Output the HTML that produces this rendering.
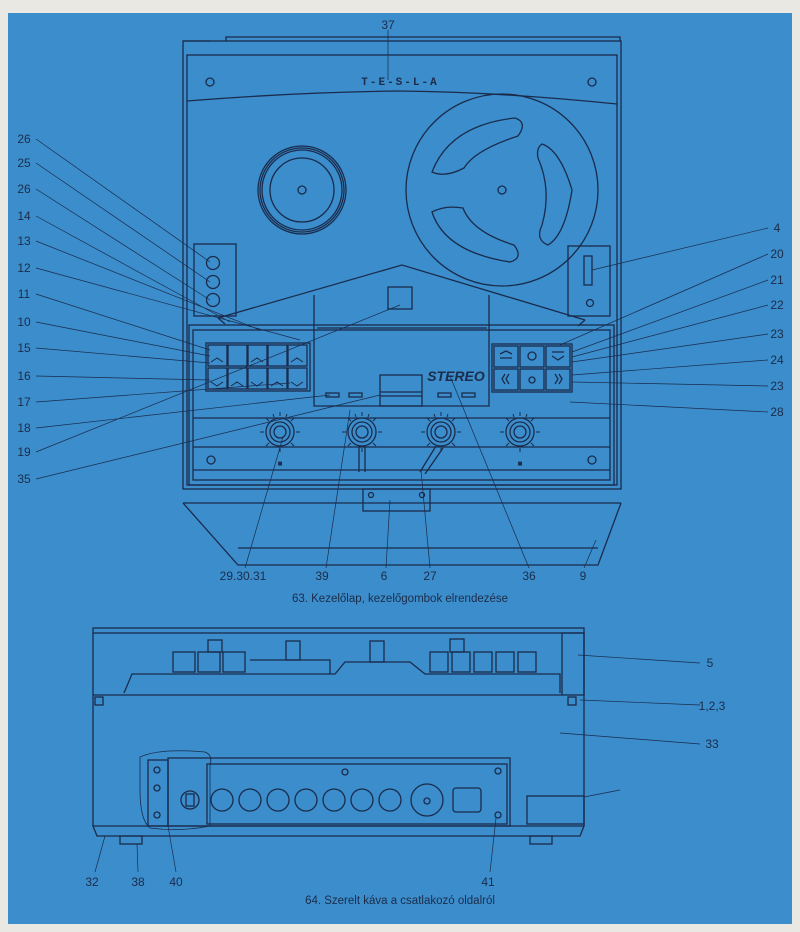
<!DOCTYPE html>
<html><head><meta charset="utf-8">
<style>
html,body{margin:0;padding:0;background:#e9e8e3;}
svg{display:block}
text{font-family:"Liberation Sans",sans-serif;fill:#1c2c4a;}
</style></head>
<body>
<svg width="800" height="932" viewBox="0 0 800 932" xmlns="http://www.w3.org/2000/svg">
<defs>
<g id="tk" stroke="#1a2b4c" stroke-width="1">
<path d="M0 -16 V-20 M11 -11 L14 -14 M16 0 H20 M11 11 L14 14 M0 16 V20 M-11 11 L-14 14 M-16 0 H-20 M-11 -11 L-14 -14 M6 -15 L7 -18 M-6 -15 L-7 -18"/>
</g>
</defs>
<rect x="8" y="13" width="784" height="911" fill="#3b8dcb"/>
<g fill="none" stroke="#1a2b4c" stroke-width="1.3">
<!-- ===== Fig 63 ===== -->
<path d="M226 41 V37 H620 V41"/>
<path d="M183 41 H210"/>
<rect x="183" y="41" width="438" height="448"/>
<rect x="187" y="55" width="430" height="430"/>
<path d="M187 101 Q300 92 400 91 Q500 92 617 104"/>
<circle cx="210" cy="82" r="4"/><circle cx="592" cy="82" r="4"/>
<!-- reels -->
<circle cx="302" cy="190" r="44"/><circle cx="302" cy="190" r="42"/><circle cx="302" cy="190" r="40"/><circle cx="302" cy="190" r="32"/>
<circle cx="302" cy="190" r="4"/>
<circle cx="502" cy="190" r="96"/>
<path d="M432 172 Q450 125 515 118 Q528 122 518 136 Q475 150 464 168 Q445 178 432 172Z"/>
<path d="M463 208 Q445 205 432 212 Q445 252 510 262 Q524 258 514 245 Q472 232 463 208Z"/>
<path d="M542 144 Q560 150 572 190 Q565 235 548 245 Q535 240 542 225 Q552 190 538 158 Q536 148 542 144Z"/>
<circle cx="502" cy="190" r="4"/>
<!-- side boxes -->
<rect x="194" y="244" width="42" height="72"/>
<circle cx="213" cy="263" r="6.5"/><circle cx="213" cy="282" r="6.5"/><circle cx="213" cy="300" r="6.5"/>
<rect x="568" y="246" width="42" height="70"/>
<rect x="584" y="256" width="8" height="29"/><circle cx="590" cy="303" r="3.5"/>
<!-- roof -->
<path d="M218 318 L402 265 L585 320"/>
<path d="M218 318 L225 324 M585 320 L578 326"/>
<path d="M314 295 V406 H489 V295"/>
<path d="M317 328 H487"/>
<rect x="388" y="287" width="24" height="22"/>
<!-- panel -->
<rect x="189" y="325" width="425" height="160"/>
<rect x="193" y="330" width="417" height="150"/>
<path d="M193 418 H610 M193 447 H610 M193 470 H610"/>
<!-- left keys -->
<rect x="206" y="343" width="104" height="48"/>
<g>
<rect x="208" y="345" width="19" height="21"/><rect x="228" y="345" width="19" height="21"/><rect x="248" y="345" width="19" height="21"/><rect x="268" y="345" width="19" height="21"/><rect x="288" y="345" width="19" height="21"/>
<rect x="208" y="368" width="19" height="21"/><rect x="228" y="368" width="19" height="21"/><rect x="248" y="368" width="19" height="21"/><rect x="268" y="368" width="19" height="21"/><rect x="288" y="368" width="19" height="21"/>
</g>
<g stroke-width="1">
<path d="M211 362 L217 358 L223 362 M251 362 L257 358 L263 362 M291 362 L297 358 L303 362"/>
<path d="M211 382 L217 386 L223 382 M231 386 L237 382 L243 386 M251 382 L257 386 L263 382 M271 386 L277 382 L283 386 M291 382 L297 386 L303 382"/>
</g>
<!-- right keys -->
<rect x="492" y="344" width="80" height="48"/>
<rect x="494" y="346" width="24" height="21"/><rect x="520" y="346" width="24" height="21"/><rect x="546" y="346" width="24" height="21"/>
<rect x="494" y="369" width="24" height="21"/><rect x="520" y="369" width="24" height="21"/><rect x="546" y="369" width="24" height="21"/>
<circle cx="532" cy="356" r="4"/><circle cx="532" cy="380" r="3"/>
<path d="M500 354 L506 351 L512 354 M500 358 H512 M552 352 H564 M552 356 L558 360 L564 356"/>
<path d="M505 374 L502 379 L505 384 M509 374 L506 379 L509 384 M555 374 L558 379 L555 384 M559 374 L562 379 L559 384"/>
<!-- cabinet inner -->
<rect x="380" y="375" width="42" height="31"/><path d="M380 392 H422 M380 396 H422"/>
<rect x="326" y="393" width="13" height="4"/><rect x="349" y="393" width="13" height="4"/><rect x="438" y="393" width="13" height="4"/><rect x="462" y="393" width="13" height="4"/>
<!-- knobs -->
<g>
<circle cx="280" cy="432" r="14"/><circle cx="280" cy="432" r="10"/><circle cx="280" cy="432" r="6"/>
<circle cx="362" cy="432" r="14"/><circle cx="362" cy="432" r="10"/><circle cx="362" cy="432" r="6"/>
<circle cx="441" cy="432" r="14"/><circle cx="441" cy="432" r="10"/><circle cx="441" cy="432" r="6"/>
<circle cx="520" cy="432" r="14"/><circle cx="520" cy="432" r="10"/><circle cx="520" cy="432" r="6"/>
</g>
<use href="#tk" x="280" y="432"/><use href="#tk" x="362" y="432"/><use href="#tk" x="441" y="432"/><use href="#tk" x="520" y="432"/>
<path d="M359 445 V472 M365 445 V472"/>
<path d="M436 446 L420 472 M443 448 L425 474"/>
<circle cx="211" cy="460" r="4"/><circle cx="592" cy="460" r="4"/>
<!-- base -->
<path d="M183 503 H621"/>
<path d="M183 503 L238 565 H598 L621 503"/>
<path d="M238 548 H598"/>
<rect x="363" y="489" width="67" height="22"/>
<circle cx="371" cy="495" r="2.5"/><circle cx="422" cy="495" r="2.5"/>
<!-- leader lines fig 63 -->
<g stroke-width="0.7">
<path d="M388 30 V80"/>
<path d="M36 139 L210 262 M36 163 L210 282 M36 189 L210 300 M36 216 L230 322 M36 241 L260 330 M36 268 L300 340 M36 294 L210 350 M36 322 L210 356 M36 348 L210 363 M36 376 L210 380 M36 402 L290 383 M36 428 L330 395 M36 452 L400 305 M36 479 L380 395"/>
<path d="M768 228 L592 270 M768 254 L560 345 M768 280 L572 352 M768 305 L572 357 M768 334 L572 362 M768 360 L572 375 M768 386 L572 382 M768 412 L570 402"/>
<path d="M245 568 L283 437 M326 568 L350 410 M386 568 L390 500 M430 568 L421 470 M529 568 L450 376 M584 568 L596 540"/>
</g>
<!-- ===== Fig 64 ===== -->
<rect x="93" y="628" width="491" height="5"/>
<path d="M93 633 V826 M584 633 V826"/>
<path d="M93 695 H562"/>
<rect x="562" y="633" width="22" height="62"/>
<path d="M124 693 L132 674 H335 L345 662 H410 L425 674 H560 V693"/>
<path d="M250 660 H330 V674"/>
<g><rect x="173" y="652" width="22" height="20"/><rect x="198" y="652" width="22" height="20"/><rect x="223" y="652" width="22" height="20"/>
<rect x="430" y="652" width="18" height="20"/><rect x="452" y="652" width="18" height="20"/><rect x="474" y="652" width="18" height="20"/><rect x="496" y="652" width="18" height="20"/><rect x="518" y="652" width="18" height="20"/>
<rect x="208" y="640" width="14" height="12"/><rect x="286" y="641" width="14" height="19"/><rect x="370" y="641" width="14" height="21"/><rect x="450" y="639" width="14" height="13"/></g>
<rect x="95" y="697" width="8" height="8"/><rect x="568" y="697" width="8" height="8"/>
<!-- connector panel -->
<path d="M140 757 Q160 748 205 752 Q213 755 210 765 V826 Q180 832 150 828 Q140 820 140 790Z" stroke-width="0.8"/>
<rect x="148" y="760" width="20" height="66"/>
<circle cx="157" cy="770" r="3"/><circle cx="157" cy="788" r="3"/><circle cx="157" cy="815" r="3"/>
<rect x="168" y="758" width="342" height="68"/>
<rect x="207" y="764" width="300" height="60"/>
<circle cx="190" cy="800" r="9"/><rect x="186" y="794" width="8" height="12"/>
<circle cx="222" cy="800" r="11"/><circle cx="250" cy="800" r="11"/><circle cx="278" cy="800" r="11"/><circle cx="306" cy="800" r="11"/><circle cx="334" cy="800" r="11"/><circle cx="362" cy="800" r="11"/><circle cx="390" cy="800" r="11"/>
<circle cx="427" cy="800" r="16"/><circle cx="427" cy="801" r="3"/>
<rect x="453" y="788" width="28" height="24" rx="3"/>
<circle cx="345" cy="772" r="3"/><circle cx="498" cy="771" r="3"/><circle cx="498" cy="815" r="3"/>
<rect x="527" y="796" width="57" height="28"/>
<path d="M93 826 H584 L580 836 H97Z"/>
<rect x="120" y="836" width="22" height="8"/><rect x="530" y="836" width="22" height="8"/>
<g stroke-width="0.7">
<path d="M700 663 L578 655 M700 705 L580 700 M700 744 L560 733 M620 790 L584 797"/>
<path d="M95 872 L105 836 M138 872 L137 844 M176 872 L168 826 M490 872 L496 818"/>
</g>
</g>
<g fill="#1a2b4c">
<text x="388" y="29" font-size="12" text-anchor="middle">37</text>
<text x="400" y="85" font-size="11" font-weight="bold" text-anchor="middle" letter-spacing="2" style="font-family:'Liberation Mono',monospace">T-E-S-L-A</text>
<text x="456" y="381" font-size="14" font-weight="bold" font-style="italic" text-anchor="middle">STEREO</text>
<text x="280" y="466" font-size="8" text-anchor="middle">■</text>
<text x="520" y="466" font-size="8" text-anchor="middle">■</text>
</g>
<g font-size="12" text-anchor="middle">
<text x="24" y="143">26</text><text x="24" y="167">25</text><text x="24" y="193">26</text><text x="24" y="220">14</text><text x="24" y="245">13</text><text x="24" y="272">12</text><text x="24" y="298">11</text><text x="24" y="326">10</text><text x="24" y="352">15</text><text x="24" y="380">16</text><text x="24" y="406">17</text><text x="24" y="432">18</text><text x="24" y="456">19</text><text x="24" y="483">35</text>
<text x="777" y="232">4</text><text x="777" y="258">20</text><text x="777" y="284">21</text><text x="777" y="309">22</text><text x="777" y="338">23</text><text x="777" y="364">24</text><text x="777" y="390">23</text><text x="777" y="416">28</text>
<text x="243" y="580">29.30.31</text><text x="322" y="580">39</text><text x="384" y="580">6</text><text x="430" y="580">27</text><text x="529" y="580">36</text><text x="583" y="580">9</text>
<text x="400" y="602" font-size="11.5">63. Kezelőlap, kezelőgombok elrendezése</text>
<text x="710" y="667">5</text><text x="712" y="710">1,2,3</text><text x="712" y="748">33</text>
<text x="92" y="886">32</text><text x="138" y="886">38</text><text x="176" y="886">40</text><text x="488" y="886">41</text>
<text x="400" y="904" font-size="11.5">64. Szerelt káva a csatlakozó oldalról</text>
</g>
</svg>
</body></html>
